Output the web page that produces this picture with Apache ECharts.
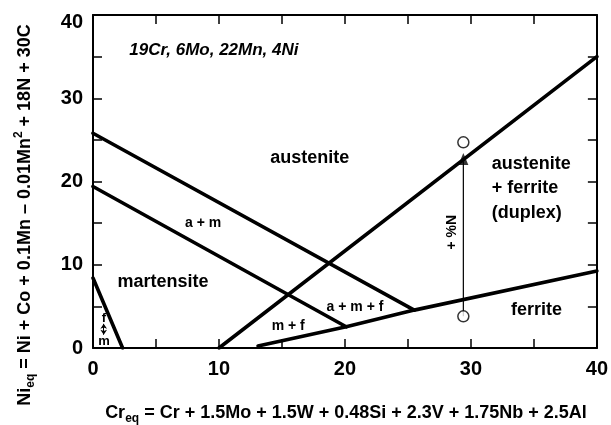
<!DOCTYPE html>
<html><head><meta charset="utf-8">
<script src="https://cdn.jsdelivr.net/npm/echarts@6/dist/echarts.min.js"></script>
<style>html,body{margin:0;padding:0;background:#fff}#c{width:611px;height:425px}</style>
</head><body><div id="c"></div>
<script>
// ---- data ----
const xTickLabels = [0, 10, 20, 30, 40];
const yTickLabels = [0, 10, 20, 30, 40];
const lineAusteniteUpper = [[0, 25.8], [25.5, 4.55]];
const lineMartensiteUpper = [[0, 19.4], [20.1, 2.55]];
const lineFerrite = [[13.1, 0.25], [20.1, 2.55], [25.5, 4.55], [40, 9.25]];
const lineDuplex = [[10, 0], [40, 35]];
const lineFM = [[0, 8.4], [2.35, 0]];
const nitrogenPath = [[29.4, 3.8], [29.4, 22.4]];
const openCircles = [[29.4, 24.7], [29.4, 3.8]];
const triangleMark = [[29.4, 22.7]];
const fmArrow = [[0.85, 2.9], [0.85, 1.6]];
const regionNames = ['austenite', 'martensite', 'a + m', 'a + m + f', 'm + f', 'ferrite', 'austenite\n+ ferrite\n(duplex)', '+ %N', 'f', 'm', '19Cr, 6Mo, 22Mn, 4Ni'];
const regionX = [17.2, 5.55, 8.74, 20.8, 15.5, 35.2, 31.65, 28.5, 0.87, 0.87, 9.6];
const regionY = [22.8, 7.9, 15.0, 4.9, 2.6, 4.56, 19.2, 13.9, 3.5, 0.85, 35.8];

// ---- styles ----
const FONT = 'Liberation Sans, Arial, sans-serif';
const labelStyles = [
  {fontSize: 18}, {fontSize: 18}, {fontSize: 14}, {fontSize: 14}, {fontSize: 14}, {fontSize: 18},
  {fontSize: 18, align: 'left', lineHeight: 24.5},
  {fontSize: 14, rotate: 90},
  {fontSize: 13}, {fontSize: 13},
  {fontSize: 17, fontStyle: 'italic'}
];

const chart = echarts.init(document.getElementById('c'), null, {renderer: 'canvas'});

function boundary(data) {
  return {type: 'line', data: data, symbol: 'none', silent: true, z: 3,
    lineStyle: {color: '#000', width: 3.6, cap: 'round', join: 'round'}};
}
const axisCommon = {
  type: 'value', min: 0, max: 40, interval: 5,
  axisLine: {show: true, onZero: false, lineStyle: {color: '#000', width: 2}},
  axisTick: {show: true, inside: true, length: 9, lineStyle: {color: '#000', width: 1.5}},
  splitLine: {show: false}
};
const tickFont = {color: '#000', fontSize: 20, fontWeight: 'bold', fontFamily: FONT};

const option = {
  animation: false,
  backgroundColor: '#fff',
  grid: {left: 93, right: 11, top: 15, bottom: 77},
  xAxis: [
    Object.assign({}, axisCommon, {position: 'bottom',
      axisLabel: Object.assign({}, tickFont, {margin: 11, showMinLabel: true, showMaxLabel: true,
        formatter: v => xTickLabels.includes(v) ? String(v) : ''})}),
    Object.assign({}, axisCommon, {position: 'top', axisLabel: {show: false}})
  ],
  yAxis: [
    Object.assign({}, axisCommon, {position: 'left',
      axisLabel: Object.assign({}, tickFont, {margin: 10, showMinLabel: true, showMaxLabel: true,
        formatter: v => yTickLabels.includes(v) ? (v === 40 ? '{t|' + v + '}' : String(v)) : '',
        rich: {t: Object.assign({}, tickFont, {padding: [15, 0, 0, 0]})}})}),
    Object.assign({}, axisCommon, {position: 'right', axisLabel: {show: false}})
  ],
  series: [
    boundary(lineAusteniteUpper),
    boundary(lineMartensiteUpper),
    boundary(lineFerrite),
    boundary(lineDuplex),
    boundary(lineFM),
    {type: 'line', data: nitrogenPath, symbol: 'none', silent: true, z: 4,
      lineStyle: {color: '#000', width: 1.2}},
    {type: 'line', data: fmArrow, symbol: 'none', silent: true, z: 4,
      lineStyle: {width: 0, opacity: 0},
      markLine: {silent: true, symbol: ['arrow', 'arrow'], symbolSize: [5, 5], label: {show: false},
        lineStyle: {color: '#000', width: 1, type: 'solid'},
        data: [[{coord: fmArrow[0]}, {coord: fmArrow[1]}]]}},
    {type: 'scatter', data: triangleMark, symbol: 'triangle', symbolSize: [10, 12], silent: true, z: 5,
      itemStyle: {color: '#000'}},
    {type: 'scatter', data: openCircles, symbol: 'circle', symbolSize: 11, silent: true, z: 6,
      itemStyle: {color: '#fff', borderColor: '#000', borderWidth: 1.5}}
  ],
  graphic: [
    {type: 'text', x: 346, y: 413, silent: true,
      style: {text: '{b|Cr}{s|eq}{b| = Cr + 1.5Mo + 1.5W + 0.48Si + 2.3V + 1.75Nb + 2.5Al}',
        align: 'center', verticalAlign: 'middle',
        rich: {
          b: {fontSize: 18, fontWeight: 'bold', fontFamily: FONT, fill: '#000', lineHeight: 24, verticalAlign: 'middle'},
          s: {fontSize: 12, fontWeight: 'bold', fontFamily: FONT, fill: '#000', lineHeight: 12, verticalAlign: 'bottom'}
        }}},
    {type: 'text', x: 25, y: 215, rotation: Math.PI / 2, silent: true,
      style: {text: '{b|Ni}{s|eq}{b| = Ni + Co + 0.1Mn – 0.01Mn}{p|2}{b| + 18N + 30C}',
        align: 'center', verticalAlign: 'middle',
        rich: {
          b: {fontSize: 18, fontWeight: 'bold', fontFamily: FONT, fill: '#000', lineHeight: 24, verticalAlign: 'middle'},
          s: {fontSize: 12, fontWeight: 'bold', fontFamily: FONT, fill: '#000', lineHeight: 12, verticalAlign: 'bottom'},
          p: {fontSize: 12, fontWeight: 'bold', fontFamily: FONT, fill: '#000', lineHeight: 12, verticalAlign: 'top'}
        }}}
  ]
};
chart.setOption(option);

// region labels placed through the chart's own coordinate system
const labelGraphics = regionNames.map((n, i) => {
  const p = chart.convertToPixel({gridIndex: 0}, [regionX[i], regionY[i]]);
  const s = labelStyles[i];
  return {type: 'text', x: p[0], y: p[1], silent: true, z: 100,
    rotation: s.rotate ? s.rotate * Math.PI / 180 : 0,
    style: {text: n, fill: '#000', fontSize: s.fontSize, fontWeight: 'bold',
      fontStyle: s.fontStyle || 'normal', fontFamily: FONT,
      lineHeight: s.lineHeight, align: s.align || 'center', verticalAlign: 'middle'}};
});
chart.setOption({graphic: option.graphic.concat(labelGraphics)});
</script>
</body></html>
